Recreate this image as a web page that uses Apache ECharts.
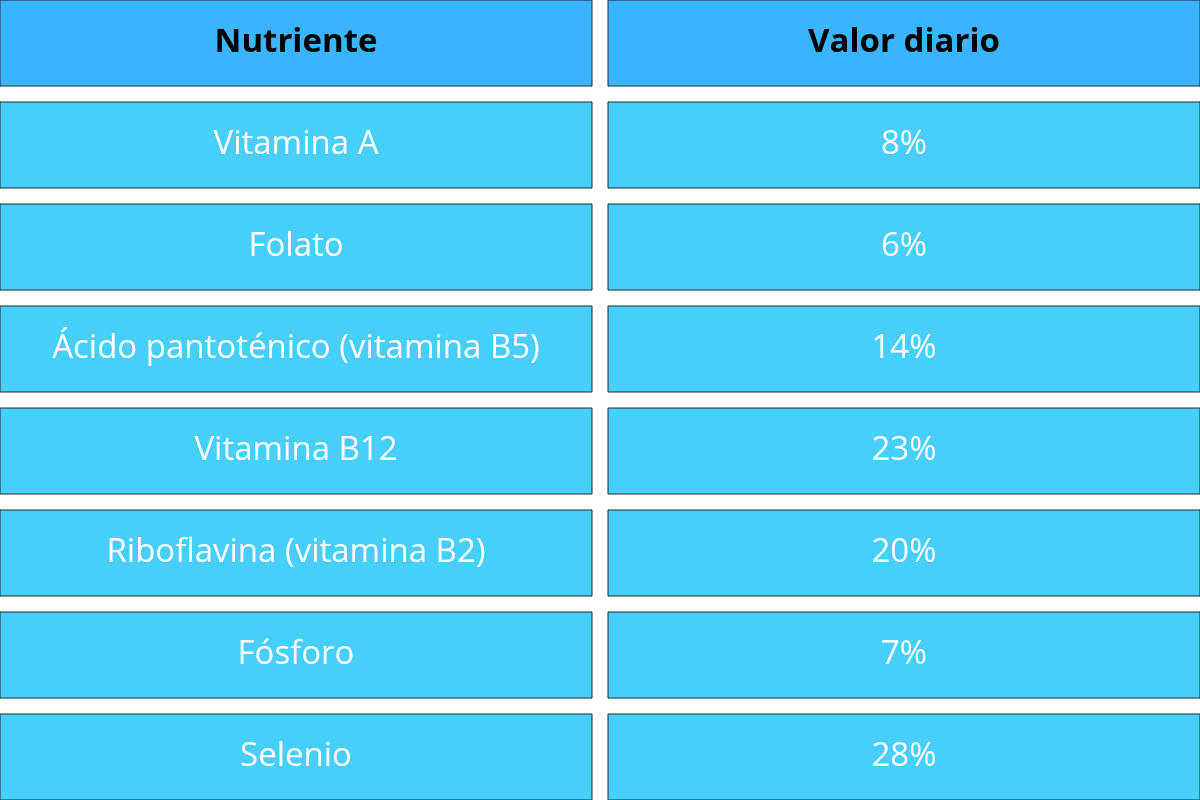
<!DOCTYPE html>
<html><head><meta charset="utf-8">
<script src="https://cdn.jsdelivr.net/npm/echarts@6/dist/echarts.min.js"></script>
<style>html,body{margin:0;padding:0;background:#fff}#c{width:1200px;height:800px}</style>
</head><body><div id="c"></div>
<script>
const headers = ['Nutriente', 'Valor diario'];
const nutrients = ['Vitamina A', 'Folato', 'Ácido pantoténico (vitamina B5)', 'Vitamina B12', 'Riboflavina (vitamina B2)', 'Fósforo', 'Selenio'];
const values = ['8%', '6%', '14%', '23%', '20%', '7%', '28%'];

const rows = [headers].concat(nutrients.map((n, i) => [n, values[i]]));
const data = [];
rows.forEach((r, ri) => r.forEach((t, ci) => data.push([ci, ri, t])));

const chart = echarts.init(document.getElementById('c'));
chart.setOption({
  animation: false,
  grid: { left: 0, right: 0, top: 0, bottom: 0 },
  xAxis: { type: 'value', min: -0.5 + 8 / 608, max: 1.5 - 8 / 608, show: false },
  yAxis: { type: 'value', min: -0.5 + 8 / 102, max: 7.5 - 8 / 102, inverse: true, show: false },
  series: [{
    type: 'custom',
    data: data,
    clip: false,
    renderItem: function (params, api) {
      const c = api.coord([api.value(0), api.value(1)]);
      const s = api.size([1, 1]);
      const w = s[0] - 16, h = s[1] - 16;
      const isHeader = api.value(1) === 0;
      return {
        type: 'group',
        children: [{
          type: 'rect',
          shape: { x: c[0] - w / 2, y: c[1] - h / 2, width: w, height: h },
          style: { fill: isHeader ? '#3ab4fd' : '#48cefa', stroke: '#1a2a33', lineWidth: 1 }
        }, {
          type: 'text',
          x: c[0], y: c[1],
          style: {
            text: data[params.dataIndex][2],
            align: 'center', verticalAlign: 'middle',
            fill: isHeader ? '#000' : '#fff',
            font: (isHeader ? 'bold 33px' : '33px') + ' "Open Sans", sans-serif'
          }
        }]
      };
    }
  }]
});
</script></body></html>
